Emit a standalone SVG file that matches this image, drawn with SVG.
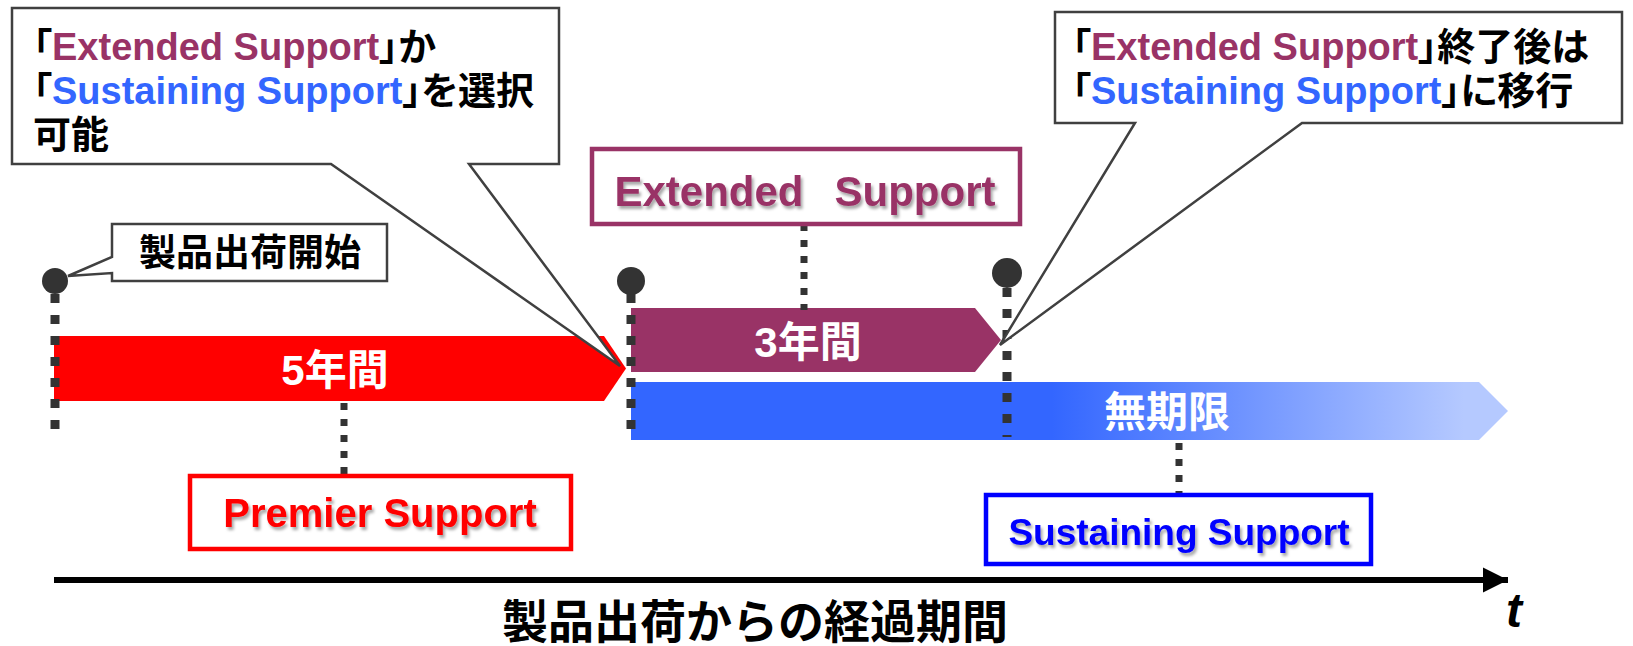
<svg xmlns="http://www.w3.org/2000/svg" width="1633" height="646" viewBox="0 0 1633 646">
<style>
.t{font-family:"Liberation Sans","Noto Sans CJK JP",sans-serif;font-weight:bold}
.pt{font-feature-settings:"palt"}
.call{fill:#fff;stroke:#404040;stroke-width:2.5}
.bar{fill:#fff;font-size:42px;text-anchor:middle}
.dotl{stroke:#333;stroke-width:9;stroke-dasharray:9 12;fill:none}
.dots{stroke:#333;stroke-width:7;stroke-dasharray:7 9;fill:none}
.dot{fill:#333}
.lab{fill:#fff;stroke-width:4.5}
</style>
<defs>
<linearGradient id="bg" gradientUnits="userSpaceOnUse" x1="631" y1="0" x2="1508" y2="0">
<stop offset="0" stop-color="#3366FF"/>
<stop offset="0.48" stop-color="#3366FF"/>
<stop offset="0.95" stop-color="#B5C9FF"/>
</linearGradient>
<filter id="sh" x="-10%" y="-30%" width="120%" height="160%">
<feDropShadow dx="2" dy="3" stdDeviation="1.5" flood-color="#000" flood-opacity="0.35"/>
</filter>
<marker id="ah" viewBox="0 0 10 10" refX="10" refY="5" markerWidth="4.2" markerHeight="4.6" markerUnits="strokeWidth" orient="auto">
<path d="M0,0 L10,5 L0,10 Z" fill="#000"/>
</marker>
</defs>

<g id="bar-premier">
<path d="M54,336 H604 L626,368.5 L604,401 H54 Z" fill="#FF0000"/>
<text class="t bar" x="335" y="385">5年間</text>
</g>
<g id="bar-extended">
<path d="M631,308 H975 L1001,340 L975,372 H631 Z" fill="#993366"/>
<text class="t bar" x="808" y="357">3年間</text>
</g>
<g id="bar-sustaining">
<path d="M631,382 H1479 L1508,411 L1479,440 H631 Z" fill="url(#bg)"/>
<text class="t bar" x="1167" y="427">無期限</text>
</g>

<g id="connectors">
<line class="dotl" x1="55" y1="294" x2="55" y2="437"/>
<line class="dotl" x1="631" y1="294" x2="631" y2="437"/>
<line class="dotl" x1="1007" y1="288" x2="1007" y2="437"/>
<line class="dots" x1="344" y1="403" x2="344" y2="476"/>
<line class="dots" x1="804" y1="224" x2="804" y2="310"/>
<line class="dots" x1="1179" y1="443" x2="1179" y2="495"/>
<line x1="54" y1="580" x2="1508" y2="580" stroke="#000" stroke-width="6" marker-end="url(#ah)"/>
</g>

<g id="dot-start"><circle class="dot" cx="55" cy="281" r="13"/></g>
<g id="dot-mid"><circle class="dot" cx="631" cy="281" r="14"/></g>
<g id="dot-end"><circle class="dot" cx="1007" cy="273" r="15"/></g>

<g id="callout-start">
<path class="call" d="M112,224 H387 V281 H112 V273 L68,276 L112,257 Z"/>
<text class="t" x="250" y="266" font-size="37" text-anchor="middle" fill="#000">製品出荷開始</text>
</g>

<g id="callout-choose">
<path class="call" d="M12,8 H559 V164 H469 L620,366 L331,164 H12 Z"/>
<text class="t pt" font-size="38" fill="#000"><tspan x="33" y="60">「<tspan fill="#993366">Extended Support</tspan>」か</tspan><tspan x="33" y="104">「<tspan fill="#3366FF">Sustaining Support</tspan>」を選択</tspan><tspan x="33" y="148">可能</tspan></text>
</g>

<g id="callout-migrate">
<path class="call" d="M1055,12 H1622 V123 H1302 L1000,345 L1135,123 H1055 Z"/>
<text class="t pt" font-size="38" fill="#000"><tspan x="1072" y="60">「<tspan fill="#993366">Extended Support</tspan>」終了後は</tspan><tspan x="1072" y="104">「<tspan fill="#3366FF">Sustaining Support</tspan>」に移行</tspan></text>
</g>

<g id="label-extended">
<rect class="lab" x="592" y="149" width="428" height="75" stroke="#993366"/>
<text class="t" x="805" y="206" font-size="42" text-anchor="middle" fill="#993366" filter="url(#sh)">Extended<tspan dx="31">Support</tspan></text>
</g>
<g id="label-premier">
<rect class="lab" x="190" y="476" width="381" height="73" stroke="#FF0000"/>
<text class="t" x="380" y="527" font-size="40" text-anchor="middle" fill="#FF0000" filter="url(#sh)">Premier Support</text>
</g>
<g id="label-sustaining">
<rect class="lab" x="986" y="495" width="385" height="69" stroke="#0000FF"/>
<text class="t" x="1179" y="545" font-size="37" text-anchor="middle" fill="#0000FF" filter="url(#sh)">Sustaining Support</text>
</g>

<g id="axis-labels">
<text class="t" x="755" y="638" font-size="46" text-anchor="middle" fill="#000">製品出荷からの経過期間</text>
<text class="t" x="1514" y="627" font-size="48" font-style="italic" text-anchor="middle" fill="#000">t</text>
</g>
</svg>
